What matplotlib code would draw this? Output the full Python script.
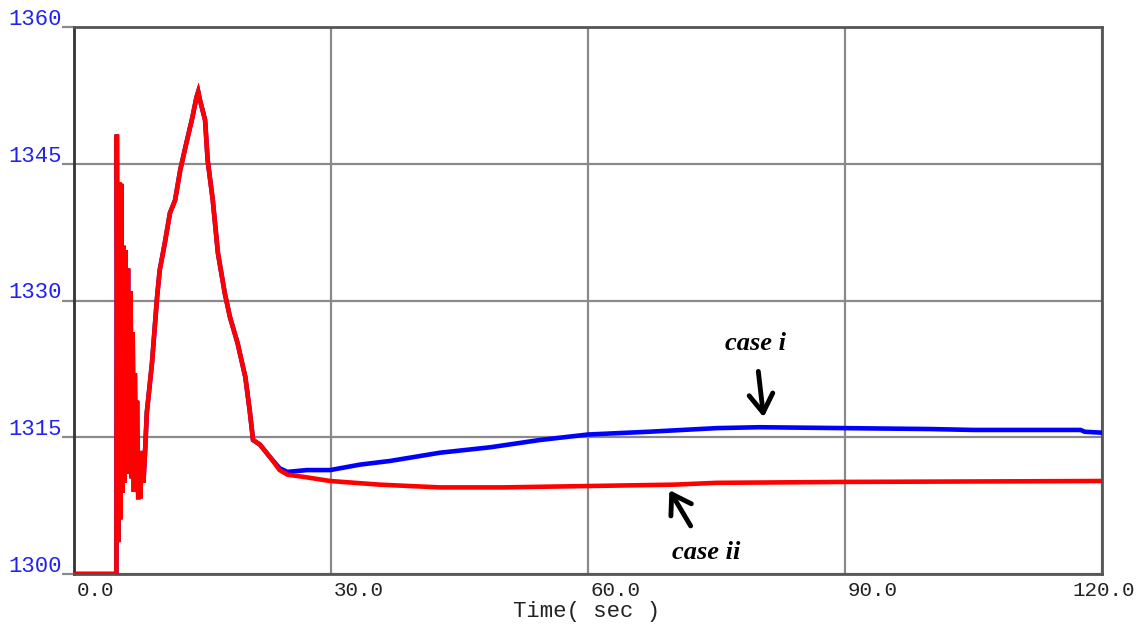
import matplotlib
matplotlib.use("Agg")
import matplotlib.pyplot as plt

# Shared transient (both cases overlap until ~22 s)
t_common = [0.0, 4.95, 5.0, 5.15, 5.25, 5.4, 5.5, 5.65, 5.8, 5.9, 6.0, 6.15, 6.3,
            6.45, 6.6, 6.75, 6.85, 7.0, 7.1, 7.25, 7.35, 7.5, 7.65, 7.75, 7.9,
            8.1, 8.3, 8.5, 9.1, 9.7, 10.0, 10.6, 11.2, 11.8, 12.4, 13.0, 13.8,
            14.3, 14.5, 14.7, 15.3, 15.6, 16.2, 16.8, 17.6, 18.2, 19.1, 20.0,
            20.5, 20.9, 21.7]
v_common = [1300.0, 1300.0, 1348.2, 1303.5, 1343.0, 1306.0, 1342.8, 1308.9,
            1336.0, 1310.0, 1335.5, 1311.0, 1333.5, 1312.0, 1331.0, 1310.5,
            1326.5, 1309.0, 1322.0, 1310.0, 1319.0, 1308.2, 1313.0, 1308.3,
            1313.5, 1310.0, 1313.5, 1317.7, 1323.1, 1330.4, 1333.3, 1336.3,
            1339.6, 1341.0, 1344.3, 1346.8, 1350.0, 1352.3, 1352.9, 1352.0,
            1349.8, 1345.4, 1341.0, 1335.2, 1330.8, 1328.2, 1325.3, 1321.6,
            1318.0, 1314.7, 1314.2]

# case i tail
t_case1 = [22.9, 24.0, 24.9, 27.2, 29.9, 33.4, 36.9, 42.7, 48.6, 54.4, 60.0,
           67.0, 75.0, 80.0, 90.0, 100.0, 105.0, 110.0, 117.5, 118.0, 120.0]
v_case1 = [1312.8, 1311.6, 1311.2, 1311.4, 1311.4, 1312.0, 1312.4, 1313.3,
           1313.9, 1314.7, 1315.3, 1315.6, 1316.0, 1316.1, 1316.0, 1315.9,
           1315.8, 1315.8, 1315.8, 1315.6, 1315.5]

# case ii tail
t_case2 = [22.9, 24.0, 24.9, 27.2, 29.9, 35.7, 42.7, 50.0, 60.0, 70.0, 75.0,
           90.0, 105.0, 120.0]
v_case2 = [1312.8, 1311.4, 1310.9, 1310.6, 1310.2, 1309.8, 1309.5, 1309.5,
           1309.65, 1309.8, 1310.0, 1310.1, 1310.15, 1310.2]

x_ticks = [0, 30, 60, 90, 120]
x_tick_labels = ["0.0", "30.0", "60.0", "90.0", "120.0"]
y_ticks = [1300, 1315, 1330, 1345, 1360]
y_tick_labels = ["1300", "1315", "1330", "1345", "1360"]

fig = plt.figure(figsize=(11.41, 6.28), dpi=100)
ax = fig.add_axes([74 / 1141, 1 - 574 / 628, (1102 - 74) / 1141, (574 - 27) / 628])

ax.set_xlim(0, 120)
ax.set_ylim(1300, 1360)

ax.plot(t_common + t_case1, v_common + v_case1, color="#0000ff", lw=3.3,
        solid_joinstyle="miter", zorder=3)
ax.plot(t_common + t_case2, v_common + v_case2, color="#ff0000", lw=3.3,
        solid_joinstyle="miter", zorder=4)

ax.grid(True, color="#8a8a8a", lw=1.6)
ax.set_axisbelow(True)
ax.set_xticks(x_ticks)
ax.set_yticks(y_ticks)
ax.set_xticklabels([])
ax.set_yticklabels([])
ax.tick_params(axis="y", length=9, width=1.6, color="#8a8a8a", direction="out")
ax.tick_params(axis="x", length=0)

ax.spines["left"].set_color("#333333")
ax.spines["left"].set_linewidth(2.0)
for sp in ["top", "right", "bottom"]:
    ax.spines[sp].set_color("#555555")
    ax.spines[sp].set_linewidth(2.0)

mono = "Liberation Mono"
for y, lab in zip(y_ticks, y_tick_labels):
    ax.annotate(lab, xy=(0, y), xycoords=("axes fraction", "data"),
                xytext=(-9, -2), textcoords="offset points",
                ha="right", va="bottom", fontsize=16, family=mono,
                color="#2222ee")
for x, lab in zip(x_ticks, x_tick_labels):
    last = x == x_ticks[-1]
    ax.annotate(lab, xy=(x, 1300), xycoords="data",
                xytext=(24 if last else 2, -5), textcoords="offset points",
                ha="right" if last else "left", va="top", fontsize=15,
                family=mono, color="#222222", annotation_clip=False)

fig.text(587 / 1141, 1 - 612 / 628, "Time( sec )", ha="center", va="center",
         fontsize=16, family=mono, color="#222222")

serif = "Liberation Serif"
ax.annotate("case i", xy=(80.5, 1317.2), xytext=(79.5, 1325.3),
            ha="center", va="center", fontsize=19, family=serif,
            fontweight="bold", fontstyle="italic", color="black",
            arrowprops=dict(arrowstyle="->,head_length=0.7,head_width=0.45",
                            lw=3.5, color="black", shrinkA=10, shrinkB=0))
ax.annotate("case ii", xy=(69.5, 1309.2), xytext=(73.8, 1302.4),
            ha="center", va="center", fontsize=19, family=serif,
            fontweight="bold", fontstyle="italic", color="black",
            arrowprops=dict(arrowstyle="->,head_length=0.7,head_width=0.45",
                            lw=3.5, color="black", shrinkA=10, shrinkB=0))

fig.savefig("out.png", dpi=100)
